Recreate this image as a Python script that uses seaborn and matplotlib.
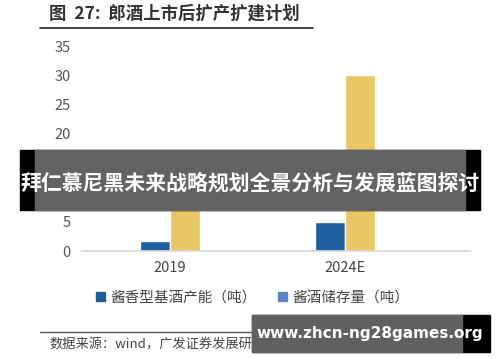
import matplotlib
matplotlib.use("Agg")
import matplotlib.pyplot as plt
import seaborn as sns
import pandas as pd
from matplotlib.patches import Rectangle
from matplotlib.lines import Line2D

sns.set_theme(style="white")
plt.rcParams['font.family'] = ['Noto Sans CJK SC', 'DejaVu Sans']

categories = ["2019", "2024E"]
series_names = ["酱香型基酒产能（吨）", "酱酒储存量（吨）"]
capacity = [1.7, 4.9]
storage = [10.4, 30.0]
yticks = [0, 5, 10, 15, 20, 25, 30, 35]

df = pd.DataFrame({
    "year": categories * 2,
    "series": [series_names[0]] * 2 + [series_names[1]] * 2,
    "value": capacity + storage,
})

blue = "#1c5e9e"
yellow = "#e8c764"
legend_blue2 = "#5a86c6"

fig = plt.figure(figsize=(5, 3.62), dpi=100)
ax = fig.add_axes([0.164, 0.3066, 0.776, 0.5663])
sns.barplot(data=df, x="year", y="value", hue="series", palette=[blue, yellow],
            width=0.34, gap=0, ax=ax, legend=False, saturation=1)
ax.set_ylim(0, 35)
ax.set_xlim(-0.503, 1.714)
ax.set_yticks(yticks)
ax.set_xlabel("")
ax.set_ylabel("")
for s in ["top", "right", "left"]:
    ax.spines[s].set_visible(False)
ax.spines["bottom"].set_color("#d9d9d9")
ax.spines["bottom"].set_linewidth(1.2)
ax.tick_params(axis="y", length=0, labelsize=10.5, labelcolor="#555555", pad=8)
ax.tick_params(axis="x", length=0, labelsize=10.5, labelcolor="#444444", pad=7)

# legend
handles = [Rectangle((0, 0), 1, 1, color=blue), Rectangle((0, 0), 1, 1, color=legend_blue2)]
fig.legend(handles, series_names, loc="center", bbox_to_anchor=(0.505, 0.178), ncol=2,
           frameon=False, fontsize=10.5, handlelength=0.6, handleheight=0.6,
           handletextpad=0.35, columnspacing=1.5, labelcolor="#444444")

# title and rules
fig.text(0.098, 0.962, "图  27:  郎酒上市后扩产扩建计划", fontsize=12.5, fontweight="bold",
         color="#333333", va="center", ha="left")
fig.add_artist(Line2D([0.08, 0.625], [0.922, 0.922], color="#222222", lw=1.2))
fig.add_artist(Line2D([0.08, 0.93], [0.082, 0.082], color="#555555", lw=1.0))
fig.text(0.098, 0.048, "数据来源：wind，广发证券发展研究中心", fontsize=9.5, color="#444444",
         va="center", ha="left")

# overlay banners
fig.add_artist(Rectangle((0.04, 0.42), 0.92, 0.166, transform=fig.transFigure,
                         color="black", zorder=5))
fig.add_artist(Rectangle((0.07, 0.42), 0.86, 0.166, transform=fig.transFigure,
                         color="#666666", alpha=0.97, zorder=6))
fig.text(0.5, 0.494, "拜仁慕尼黑未来战略规划全景分析与发展蓝图探讨", fontsize=15,
         fontweight="bold", color="white", ha="center", va="center", zorder=7)
fig.add_artist(Rectangle((0.504, 0.028), 0.476, 0.102, transform=fig.transFigure,
                         color="black", zorder=5))
fig.add_artist(Rectangle((0.504, 0.028), 0.42, 0.102, transform=fig.transFigure,
                         color="#666666", alpha=0.95, zorder=6))
fig.text(0.74, 0.08, "www.zhcn-ng28games.org", fontsize=11, fontweight="bold",
         color="white", ha="center", va="center", zorder=7, family="DejaVu Sans")

fig.savefig("out.png", dpi=100)
